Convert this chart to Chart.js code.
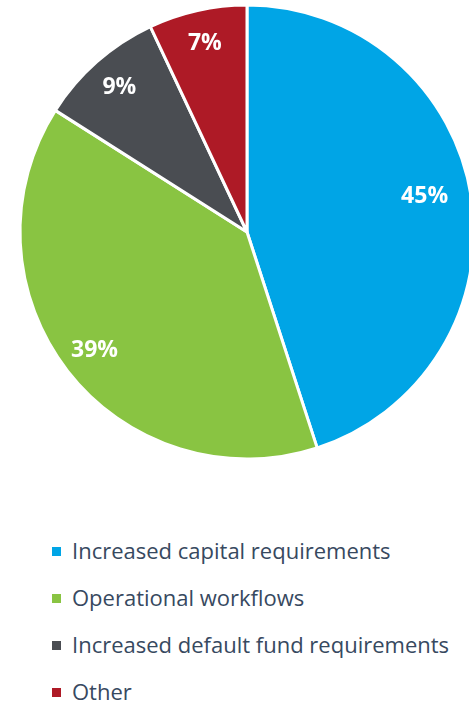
<!DOCTYPE html>
<html>
<head>
<meta charset="utf-8">
<script src="https://cdn.jsdelivr.net/npm/chart.js@4.4.1/dist/chart.umd.min.js"></script>
<style>
  html, body { margin: 0; padding: 0; background: #fff; overflow: hidden; }
  body { width: 469px; height: 707px; position: relative; }
  #wrap { position: absolute; left: 0; top: 0; width: 494px; height: 464px; }
  #legend {
    position: absolute; left: 52px; top: 527px; margin: 0; padding: 0;
    list-style: none; font-family: "Open Sans", sans-serif; font-size: 22px;
    color: #37495f;
  }
  #legend li { height: 47px; line-height: 47px; white-space: nowrap; }
  #legend span.box {
    display: inline-block; width: 9px; height: 9px; margin-right: 11px;
    vertical-align: middle; position: relative; top: -2px;
  }
</style>
</head>
<body>
<div id="wrap"><canvas id="myChart" width="494" height="464"></canvas></div>
<ul id="legend"></ul>
<script>
document.addEventListener('DOMContentLoaded', () => {
  const ctx = document.getElementById('myChart');

  const labels = [
    'Increased capital requirements',
    'Operational workflows',
    'Increased default fund requirements',
    'Other',
  ];
  const shares = [45, 39, 9, 7];
  const colors = ['#00a5e6', '#89c442', '#4a4d52', '#ae1a26'];

  // percentage text inside each slice
  const sliceLabels = {
    id: 'sliceLabels',
    afterDatasetsDraw(chart) {
      const c = chart.ctx;
      const meta = chart.getDatasetMeta(0);
      c.save();
      c.fillStyle = '#ffffff';
      c.font = 'bold 23px "Open Sans", sans-serif';
      c.textAlign = 'center';
      c.textBaseline = 'middle';
      meta.data.forEach((arc, i) => {
        const { x, y, startAngle, endAngle, outerRadius } = arc.getProps(['x', 'y', 'startAngle', 'endAngle', 'outerRadius'], true);
        const mid = (startAngle + endAngle) / 2;
        // the big slice runs off the right edge, pull its label in a bit
        const r = outerRadius * (i === 0 ? 0.81 : 0.85);
        c.fillText(shares[i] + '%', x + Math.cos(mid) * r - (i === 0 ? 4 : 0), y + Math.sin(mid) * r - (i === 0 ? 7 : 0));
      });
      c.restore();
    }
  };

  const config = {
    type: 'pie',
    data: {
      labels: labels,
      datasets: [{
        data: shares,
        backgroundColor: colors,
        borderColor: '#ffffff',
        borderWidth: 3,
      }]
    },
    options: {
      responsive: false,
      animation: false,
      radius: 227,
      layout: { padding: 0 },
      plugins: {
        legend: { display: false },
        tooltip: { enabled: false },
      }
    },
    plugins: [sliceLabels]
  };
  const myChart = new Chart(ctx, config);

  // legend list, one item per line
  const ul = document.getElementById('legend');
  myChart.options.plugins.legend.labels.generateLabels(myChart).forEach(item => {
    const li = document.createElement('li');
    const box = document.createElement('span');
    box.className = 'box';
    box.style.background = item.fillStyle;
    li.appendChild(box);
    li.appendChild(document.createTextNode(item.text));
    ul.appendChild(li);
  });
});
</script>
</body>
</html>
